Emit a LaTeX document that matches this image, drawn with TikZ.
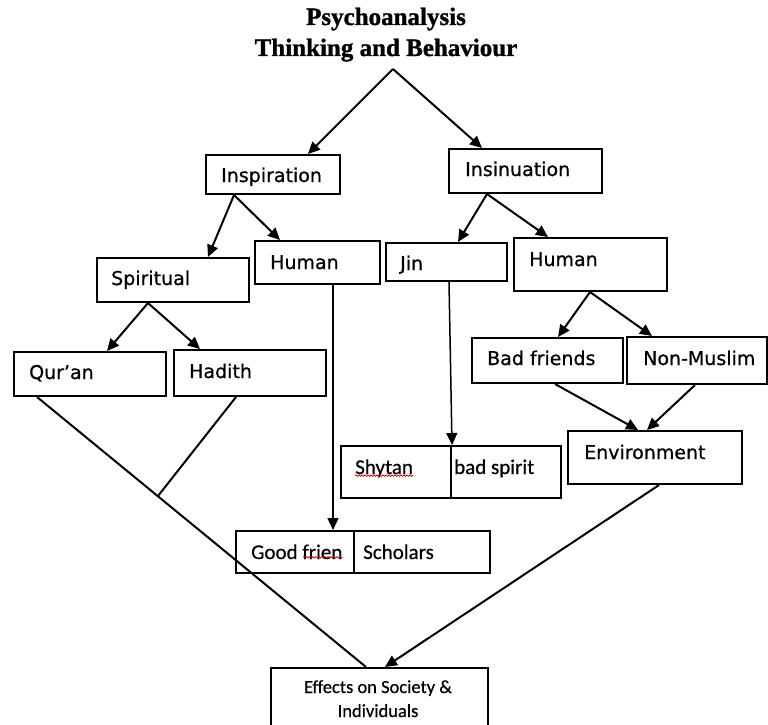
\documentclass[tikz,border=0pt]{standalone}
\usepackage{fontspec}
\usetikzlibrary{arrows.meta,decorations.pathmorphing}
\newfontfamily\labfont[FakeBold=0.7]{DejaVu Sans}
\newfontfamily\calfont[FakeBold=0.5]{Carlito}
\newfontfamily\ttlfont[FakeBold=1.2]{Liberation Serif}
\begin{document}
\begin{tikzpicture}[x=1pt,y=-1pt,
  box/.style={draw, line width=2pt, inner sep=0pt, anchor=north west},
  lab/.style={inner sep=0pt, anchor=base west, font=\labfont\fontsize{19}{22}\selectfont},
  cal/.style={inner sep=0pt, anchor=base west, font=\calfont\fontsize{21}{24}\selectfont},
  ttl/.style={inner sep=0pt, anchor=base, font=\ttlfont\bfseries\fontsize{25}{28}\selectfont},
  arr/.style={line width=2pt, -{Triangle[length=12pt,width=11pt]}},
  ln/.style={line width=2pt},
  squig/.style={red!80!black, line width=0.7pt, decorate, decoration={snake, amplitude=0.8pt, segment length=3pt}}]
\clip (0,0) rectangle (768,725);
\fill[white] (0,0) rectangle (768,725);

% title
\node[ttl] (t1) at (386,25) {Psychoanalysis};
\node[ttl] (t2) at (386,56) {Thinking and Behaviour};
\coordinate (apex) at (393,69);

% boxes
\node[box, minimum width=134pt, minimum height=39pt] (insp) at (205,154) {};
\node[box, minimum width=153pt, minimum height=44pt] (insin) at (448,148) {};
\node[box, minimum width=152pt, minimum height=44pt] (spir) at (96,257) {};
\node[box, minimum width=125pt, minimum height=43pt] (humL) at (254,240) {};
\node[box, minimum width=152pt, minimum height=44pt] (quran) at (13,351) {};
\node[box, minimum width=152pt, minimum height=46pt] (hadith) at (173,349) {};
\node[box, minimum width=121pt, minimum height=38pt] (jin) at (385,242) {};
\node[box, minimum width=153pt, minimum height=53pt] (humR) at (513,237) {};
\node[box, minimum width=151pt, minimum height=45pt] (badf) at (471,337) {};
\node[box, minimum width=140pt, minimum height=47pt] (nonm) at (626,336) {};
\node[box, minimum width=110pt, minimum height=52pt] (shy) at (340,445) {};
\node[box, minimum width=110pt, minimum height=52pt] (spirit) at (450,445) {};
\node[box, minimum width=174pt, minimum height=53pt] (env) at (567,430) {};
\node[box, minimum width=118pt, minimum height=42pt] (good) at (235,530) {};
\node[box, minimum width=136pt, minimum height=42pt] (schol) at (353,530) {};
\node[box, minimum width=217pt, minimum height=80pt] (eff) at (270,667) {};

% labels
\node[lab] (inspt) at (221,182) {Inspiration};
\node[lab] (insint) at (465,176) {Insinuation};
\node[lab] (spirt) at (111,285) {Spiritual};
\node[lab] (humLt) at (270,269) {Human};
\node[lab] (qurant) at (29,379) {Qur’an};
\node[lab] (haditht) at (189,378) {Hadith};
\node[lab] (jint) at (400,270) {Jin};
\node[lab] (humRt) at (529,266) {Human};
\node[lab] (badft) at (487,365) {Bad friends};
\node[lab] (nonmt) at (643,365) {Non-Muslim};
\node[lab] (envt) at (584,459) {Environment};
\node[cal] (shyt) at (355,474) {Shytan};
\node[cal] (spiritt) at (454,474) {bad spirit};
\node[cal] (goodt) at (251,559) {Good frien};
\node[cal] (scholt) at (363,559) {Scholars};
\node[inner sep=0pt, anchor=base, font=\calfont\fontsize{18.5}{22}\selectfont] (efft1) at (378,693) {Effects on Society \&};
\node[inner sep=0pt, anchor=base, font=\calfont\fontsize{18.5}{22}\selectfont] (efft2) at (378,717) {Individuals};

% spell-check squiggles
\draw[squig] ([yshift=2pt]shyt.south west) -- ([yshift=2pt]shyt.south east);
\draw[squig] ([xshift=52pt,yshift=2pt]goodt.south west) -- ([yshift=2pt]goodt.south east);

% connectors
\draw[arr] (apex) -- ([xshift=103]insp.north west);
\draw[arr] (apex) -- ([xshift=34]insin.north west);
\draw[arr] ([xshift=29]insp.south west) -- ([xshift=112]spir.north west);
\draw[arr] ([xshift=29]insp.south west) -- ([xshift=26]humL.north west);
\draw[arr] ([xshift=39]insin.south west) -- ([xshift=73]jin.north west);
\draw[arr] ([xshift=39]insin.south west) -- ([xshift=35]humR.north west);
\draw[arr] ([xshift=52]spir.south west) -- ([xshift=94]quran.north west);
\draw[arr] ([xshift=52]spir.south west) -- ([xshift=27]hadith.north west);
\draw[arr] ([xshift=77]humR.south west) -- ([xshift=87]badf.north west);
\draw[arr] ([xshift=77]humR.south west) -- ([xshift=26]nonm.north west);
\draw[arr] ([xshift=84]badf.south west) -- ([xshift=71]env.north west);
\draw[arr] ([xshift=69]nonm.south west) -- ([xshift=80]env.north west);
\draw[arr, line width=1.5pt] ([xshift=64]jin.south west) -- (shy.north east);
\draw[arr, line width=1.5pt] ([xshift=79]humL.south west) -- ([xshift=98]good.north west);
\coordinate (junc) at (158,496);
\draw[ln] ([xshift=24]quran.south west) -- ([xshift=96]eff.north west);
\draw[ln] ([xshift=63]hadith.south west) -- (junc);
\draw[arr] ([xshift=92]env.south west) -- ([xshift=115]eff.north west);
\end{tikzpicture}
\end{document}
